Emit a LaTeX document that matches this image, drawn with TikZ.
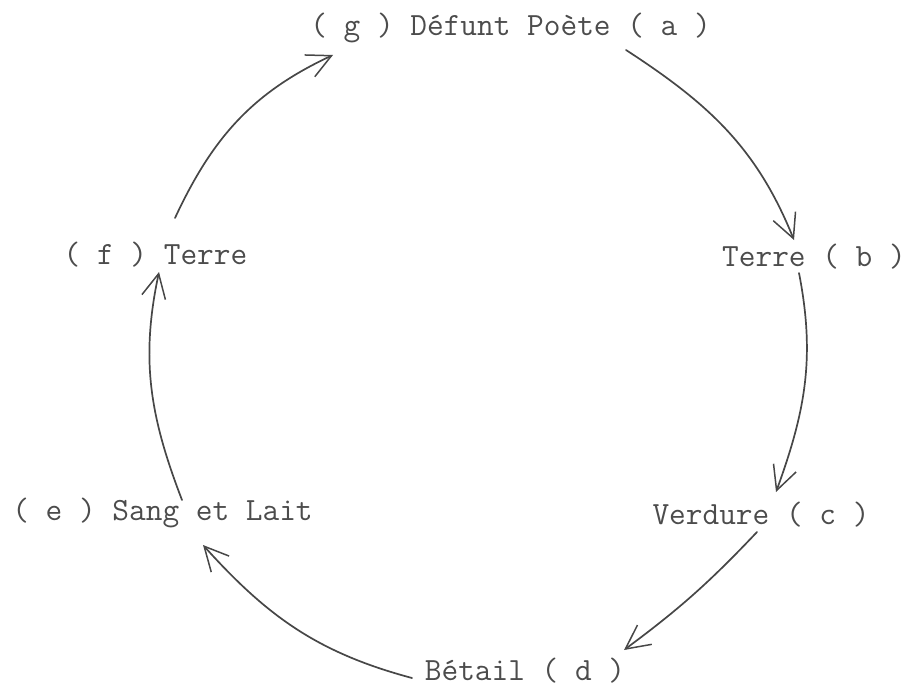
\documentclass[tikz,border=0pt]{standalone}
\usepackage{fontspec}
\usetikzlibrary{arrows.meta}
\tikzset{
  typed/.style={font=\ttfamily\fontsize{32.4}{38}\selectfont, text=black!70, inner sep=0pt, anchor=center},
  pen/.style={draw=black!72, line width=1.7pt, line cap=round,
    -{Straight Barb[length=24pt, width=24pt, line width=1.5pt]}}
}
\begin{document}
\begin{tikzpicture}[x=1pt, y=-1pt]
\useasboundingbox (0,0) rectangle (909,690);
\node[typed] (top) at (510.5,28) {( g ) Défunt Poète ( a )};
\node[typed] (b) at (814,257) {Terre ( b )};
\node[typed] (f) at (155.5,255) {( f ) Terre};
\node[typed] (c) at (761,515) {Verdure ( c )};
\node[typed] (e) at (162.5,513) {( e ) Sang et Lait};
\node[typed] (d) at (525,671) {Bétail ( d )};
% a -> b
\draw[pen] ([shift={(115.5,22)}]top.center) to[out=-33, in=112] ([shift={(-20,-17)}]b.center);
% b -> c
\draw[pen] ([shift={(-15,16)}]b.center) to[out=-79, in=70] ([shift={(15,-23)}]c.center);
% c -> d
\draw[pen] ([shift={(-4,17)}]c.center) to[bend left=5] ([shift={(99,-21)}]d.center);
% d -> e
\draw[pen] ([shift={(-113,7)}]d.center) to[out=165, in=-48] ([shift={(40.5,32)}]e.center);
% e -> f
\draw[pen] ([shift={(19.5,-13)}]e.center) to[out=111, in=-102] ([shift={(3.5,17)}]f.center);
% f -> g
\draw[pen] ([shift={(19.5,-37)}]f.center) to[out=65, in=-155] ([shift={(-177.5,27)}]top.center);
\end{tikzpicture}
\end{document}
